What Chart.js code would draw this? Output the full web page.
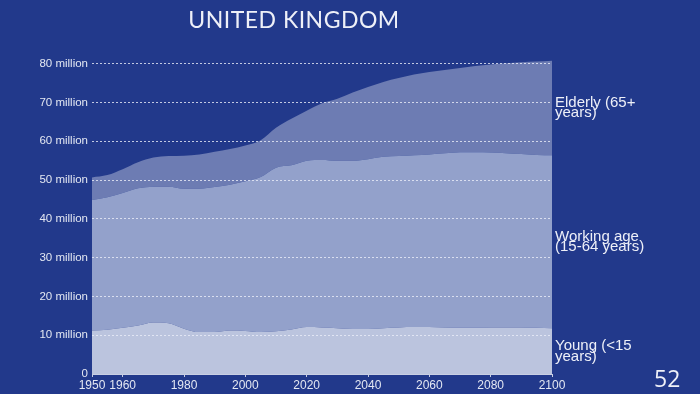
<!DOCTYPE html>
<html>
<head>
<meta charset="utf-8">
<script src="https://cdn.jsdelivr.net/npm/chart.js@4/dist/chart.umd.min.js"></script>
<style>
  html, body { margin:0; padding:0; background:#22398b; }
  #wrap { position:relative; width:700px; height:394px; background:#22398b; overflow:hidden; }
  #title { position:absolute; left:0; width:588px; top:5px; text-align:center; color:#eef0f8;
           font-family:Lato, "Open Sans", sans-serif; font-weight:400; font-size:23px; letter-spacing:0.5px; }
  #page { position:absolute; left:654px; top:362px; color:#eef0f8; font-family:"Open Sans", Lato, sans-serif; font-weight:400; font-size:23px; }
  canvas { position:absolute; left:0; top:0; }
</style>
</head>
<body>
<div id="wrap">
  <canvas id="c" width="700" height="394"></canvas>
  <div id="title">UNITED KINGDOM</div>
  <div id="page">52</div>
</div>
<script>
const years = [1950,1955,1960,1965,1970,1975,1980,1985,1990,1995,2000,2005,2010,2015,2020,2025,2030,2035,2040,2045,2050,2055,2060,2065,2070,2075,2080,2085,2090,2095,2100];
// millions
const young   = [11.2,11.4,11.9,12.5,13.3,13.1,11.7,10.8,10.8,11.2,11.1,10.8,11.0,11.5,12.1,12.0,11.8,11.6,11.6,11.8,12.0,12.1,12.1,12.0,11.9,11.9,12.0,12.0,12.0,11.9,11.8];
const working = [33.7,34.2,34.8,35.4,35.0,35.2,36.1,37.0,37.4,37.6,38.6,40.0,42.2,42.3,42.9,43.2,43.2,43.4,43.8,44.2,44.2,44.3,44.5,44.9,45.3,45.3,45.1,44.9,44.7,44.6,44.6];
const elderly = [5.8,5.7,6.1,6.7,7.5,7.9,8.5,8.8,9.1,9.2,9.2,9.5,10.3,12.0,12.9,14.6,16.0,17.6,18.6,19.3,20.1,20.8,21.3,21.5,21.7,22.2,22.7,23.2,23.7,24.1,24.4];
const seriesLabels = [["Young (<15","years)"],["Working age","(15-64 years)"],["Elderly (65+","years)"]];
const xTicks = [1950,1960,1980,2000,2020,2040,2060,2080,2100];
const yTicks = [0,10,20,30,40,50,60,70,80];

const toPts = arr => arr.map((v,i)=>({x:years[i], y:v}));

const endLabels = {
  id:'endLabels',
  afterDraw(chart){
    const ctx = chart.ctx;
    const area = chart.chartArea;
    ctx.save();
    ctx.font = '15px "Liberation Sans", Arial, sans-serif';
    ctx.fillStyle = '#eef0f8';
    ctx.textBaseline = 'middle';
    ctx.textAlign = 'left';
    let prevY = chart.scales.y.getPixelForValue(0);
    chart.data.datasets.forEach((ds, i) => {
      const meta = chart.getDatasetMeta(i);
      const last = meta.data[meta.data.length-1];
      const mid = (last.y + prevY)/2;
      prevY = last.y;
      const lines = seriesLabels[i];
      const lh = 10.5;
      lines.forEach((t, j) => {
        ctx.fillText(t, area.right + 3, mid + (j - (lines.length-1)/2)*lh);
      });
    });
    ctx.restore();
  }
};

new Chart(document.getElementById('c'), {
  type:'line',
  data:{
    datasets:[
      {label:'Young', data:toPts(young), fill:'origin', backgroundColor:'rgb(187,196,222)'},
      {label:'Working', data:toPts(working), fill:'-1', backgroundColor:'rgb(147,161,203)'},
      {label:'Elderly', data:toPts(elderly), fill:'-1', backgroundColor:'rgb(109,124,179)'}
    ]
  },
  options:{
    responsive:false,
    animation:false,
    layout:{padding:{left:0, right:148, top:56, bottom:0}},
    elements:{
      point:{radius:0},
      line:{borderWidth:0, tension:0.4, cubicInterpolationMode:'monotone'}
    },
    plugins:{legend:{display:false}, tooltip:{enabled:false}},
    scales:{
      x:{
        type:'linear', min:1950, max:2100,
        afterBuildTicks(axis){ axis.ticks = xTicks.map(v=>({value:v})); },
        afterFit(scale){ scale.height = 20; },
        grid:{drawOnChartArea:false, drawTicks:true, tickLength:3, color:'#c9cfe3'},
        border:{display:true, color:'#c9cfe3', width:1, z:2},
        ticks:{color:'#e3e7f2', font:{family:'"Liberation Sans", Arial, sans-serif', size:12}, padding:1, maxRotation:0, autoSkip:false,
               callback:v=>String(v)}
      },
      y:{
        stacked:true, min:0, max:82,
        afterBuildTicks(axis){ axis.ticks = yTicks.map(v=>({value:v})); },
        afterFit(scale){ scale.width = 92; },
        grid:{drawTicks:false, color:'rgba(235,238,248,0.8)', lineWidth:1, z:1},
        border:{display:false, dash:[2,2]},
        ticks:{color:'#e3e7f2', font:{family:'"Liberation Sans", Arial, sans-serif', size:11.5}, padding:4,
               callback:v=> v===0 ? '0' : v + ' million'}
      }
    }
  },
  plugins:[endLabels]
});
</script>
</body>
</html>
